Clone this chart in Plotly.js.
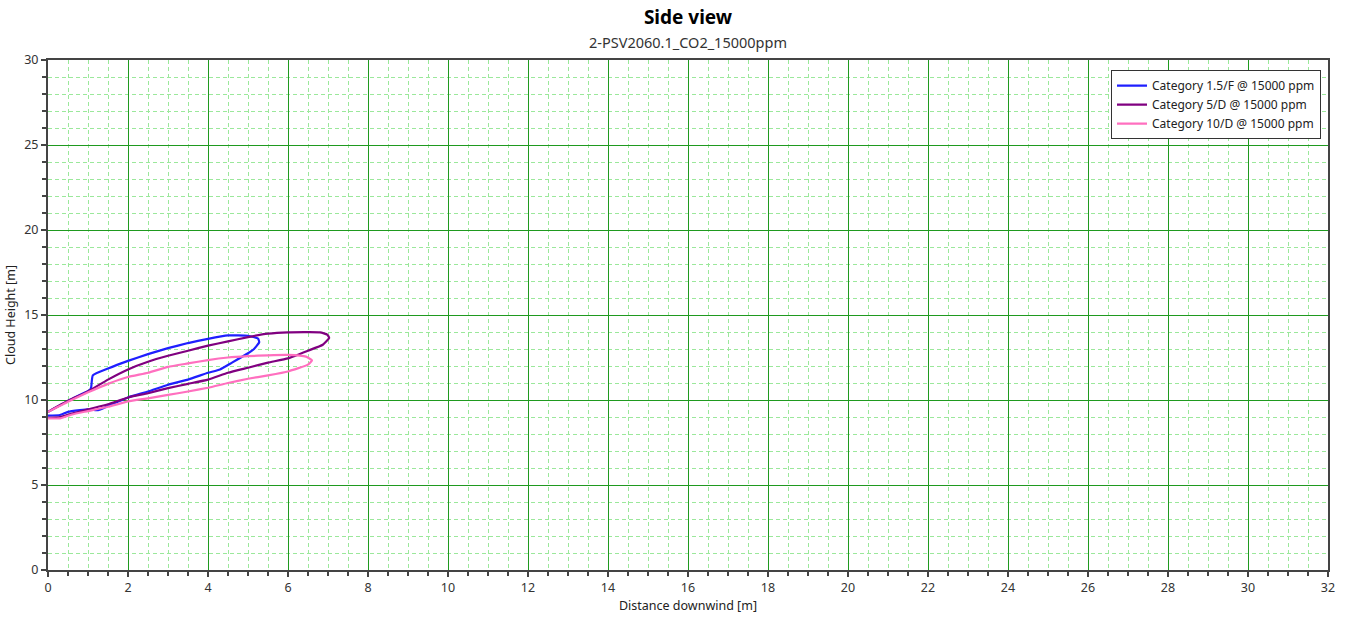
<!DOCTYPE html>
<html>
<head>
<meta charset="utf-8">
<script src="https://cdn.plot.ly/plotly-3.0.1.min.js"></script>
<style>
  html, body { margin: 0; padding: 0; background: #ffffff; }
  #chart { width: 1354px; height: 622px; }
</style>
</head>
<body>
<div id="chart"></div>
<script>
// Side-view cloud contours (closed outlines) for three weather categories
const chartTitle = 'Side view';
const chartSubtitle = '2-PSV2060.1_CO2_15000ppm';

const seriesNames = [
  'Category 1.5/F @ 15000 ppm',
  'Category 5/D @ 15000 ppm',
  'Category 10/D @ 15000 ppm'
];

const cat15F_x = [0, 0.5, 1.05, 1.08, 1.12, 1.5, 2, 2.5, 3, 3.5, 4, 4.5, 5.0, 5.25, 5.28, 5.15, 5.0, 4.6, 4.3, 4.0, 3.5, 3.0, 2.5, 2.0, 1.5, 1.25, 1.0, 0.8, 0.5, 0.3, 0];
const cat15F_y = [9.3, 9.95, 10.6, 10.75, 11.45, 11.85, 12.3, 12.7, 13.05, 13.35, 13.6, 13.8, 13.78, 13.62, 13.4, 13.0, 12.75, 12.2, 11.8, 11.6, 11.2, 10.9, 10.5, 10.15, 9.65, 9.4, 9.45, 9.4, 9.3, 9.12, 9.08];

const cat5D_x = [0, 0.5, 1.0, 1.5, 2, 2.5, 3, 3.5, 4, 4.5, 5, 5.5, 6, 6.8, 6.98, 7.03, 6.87, 6.5, 6, 5.5, 5, 4.5, 4, 3.5, 3, 2.5, 2, 1.5, 1, 0.6, 0.3, 0];
const cat5D_y = [9.3, 9.95, 10.5, 11.2, 11.8, 12.25, 12.6, 12.9, 13.2, 13.45, 13.7, 13.9, 13.98, 13.98, 13.85, 13.65, 13.25, 12.9, 12.45, 12.2, 11.9, 11.6, 11.2, 10.95, 10.7, 10.4, 10.15, 9.75, 9.45, 9.2, 9.0, 8.95];

const cat10D_x = [0, 0.5, 1, 1.5, 2, 2.5, 3, 3.5, 4, 4.5, 5, 5.5, 6, 6.45, 6.6, 6.5, 6, 5.5, 5, 4.5, 4, 3.5, 3, 2.5, 2, 1.5, 1, 0.6, 0.3, 0];
const cat10D_y = [9.3, 9.9, 10.45, 10.95, 11.35, 11.6, 11.95, 12.15, 12.35, 12.5, 12.58, 12.63, 12.65, 12.55, 12.33, 12.08, 11.68, 11.45, 11.25, 11.0, 10.72, 10.5, 10.3, 10.1, 9.92, 9.6, 9.35, 9.15, 8.92, 8.92];

const seriesColors = ['#1f1fff', '#800080', '#ff6fbf'];

const FONT = '"Noto Sans", "Open Sans", sans-serif';

const traces = [
  [cat15F_x, cat15F_y],
  [cat5D_x, cat5D_y],
  [cat10D_x, cat10D_y]
].map(([xs, ys], i) => ({
  type: 'scatter',
  mode: 'lines',
  name: seriesNames[i],
  x: xs,
  y: ys,
  line: { color: seriesColors[i], width: 2.2, shape: 'spline', smoothing: 0.4 },
  hoverinfo: 'x+y+name'
}));

const minorGrid = { showgrid: true, gridcolor: '#9be89b', griddash: '4px,3px', gridwidth: 1, ticks: 'outside', ticklen: 4, tickcolor: '#444444' };

// plot area 1280 x 510 px so every grid line lands on a whole pixel
const layout = {
  width: 1354,
  height: 622,
  paper_bgcolor: '#ffffff',
  plot_bgcolor: '#ffffff',
  margin: { l: 48, r: 26, t: 60, b: 52 },
  font: { family: FONT, size: 12, color: '#333333' },
  title: {
    text: chartTitle,
    font: { family: FONT, size: 19, color: '#000000', weight: 'bold' },
    x: 0.5, xref: 'paper', xanchor: 'center',
    y: 1 - 17 / 622, yref: 'container', yanchor: 'middle'
  },
  annotations: [{
    text: chartSubtitle,
    xref: 'paper', yref: 'paper', x: 0.5, y: (570 - 42) / 510,
    xanchor: 'center', yanchor: 'middle', showarrow: false,
    font: { family: FONT, size: 14.5, color: '#333333' }
  }],
  showlegend: true,
  legend: {
    x: (1111 - 48) / 1280, y: 0.98, xanchor: 'left', yanchor: 'top',
    bgcolor: '#ffffff', bordercolor: '#333333', borderwidth: 1,
    font: { family: FONT, size: 12, color: '#222222' },
    tracegroupgap: 0, itemwidth: 30
  },
  xaxis: {
    range: [0, 32], dtick: 2, tick0: 0,
    showline: true, linecolor: '#444444', linewidth: 2, mirror: true,
    ticks: 'outside', ticklen: 5, tickcolor: '#444444', tickwidth: 1.5,
    showgrid: true, gridcolor: '#1f9a1f', gridwidth: 1,
    zeroline: false,
    minor: Object.assign({ dtick: 0.5 }, minorGrid),
    tickfont: { family: FONT, size: 12.5, color: '#333333' },
    title: { text: 'Distance downwind [m]', font: { family: FONT, size: 12.5, color: '#222222' }, standoff: 6 }
  },
  yaxis: {
    range: [0, 30], dtick: 5, tick0: 0,
    showline: true, linecolor: '#444444', linewidth: 2, mirror: true,
    ticks: 'outside', ticklen: 5, tickcolor: '#444444', tickwidth: 1.5,
    showgrid: true, gridcolor: '#1f9a1f', gridwidth: 1,
    zeroline: false,
    minor: Object.assign({ dtick: 1 }, minorGrid),
    tickfont: { family: FONT, size: 12.5, color: '#333333' },
    title: { text: 'Cloud Height [m]', font: { family: FONT, size: 12.5, color: '#222222' }, standoff: 6 }
  }
};

Plotly.newPlot('chart', traces, layout, { displayModeBar: false });
</script>
</body>
</html>
